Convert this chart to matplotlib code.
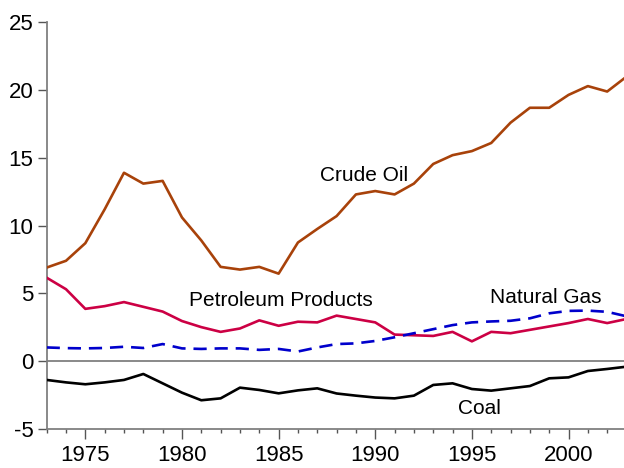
import numpy as np
import matplotlib.pyplot as plt
from matplotlib.ticker import MultipleLocator

plt.rcParams['font.family'] = ['Liberation Sans', 'DejaVu Sans']
plt.rcParams['axes.unicode_minus'] = False

years = list(range(1973, 2004))

crude_oil = [6.9, 7.4, 8.7, 11.2, 13.9, 13.1, 13.3, 10.6, 8.9, 6.95, 6.75,
             6.95, 6.45, 8.75, 9.75, 10.7, 12.3, 12.55, 12.3, 13.1, 14.55,
             15.2, 15.5, 16.1, 17.6, 18.7, 18.7, 19.65, 20.3, 19.9, 21.0]

petroleum_products = [6.15, 5.3, 3.85, 4.05, 4.35, 4.0, 3.65, 2.95, 2.5, 2.15,
                      2.4, 3.0, 2.6, 2.9, 2.85, 3.35, 3.1, 2.85, 1.95, 1.9,
                      1.85, 2.15, 1.45, 2.15, 2.05, 2.3, 2.55, 2.8, 3.1, 2.8,
                      3.1]

natural_gas = [1.0, 0.95, 0.93, 0.96, 1.05, 0.96, 1.25, 0.93, 0.89, 0.93, 0.93,
               0.82, 0.89, 0.7, 1.0, 1.25, 1.3, 1.48, 1.75, 2.05, 2.35, 2.65,
               2.85, 2.92, 2.97, 3.15, 3.52, 3.7, 3.72, 3.63, 3.3]

coal = [-1.4, -1.58, -1.72, -1.58, -1.4, -0.96, -1.65, -2.34, -2.9, -2.76,
        -1.97, -2.14, -2.39, -2.17, -2.02, -2.4, -2.56, -2.7, -2.76, -2.56,
        -1.77, -1.65, -2.07, -2.19, -2.02, -1.85, -1.28, -1.21, -0.74, -0.59,
        -0.42]

labels = ["Crude Oil", "Petroleum Products", "Natural Gas", "Coal"]
label_pos = [(1989.4, 13.7), (1985.1, 4.5), (1998.8, 4.7), (1995.4, -3.5)]

fig = plt.figure(figsize=(6.24, 4.68), dpi=100)
ax = fig.add_axes([0.0748, 0.084, 0.9252, 0.868])

ax.axhline(0, color='#808080', lw=1.3, zorder=1)

ax.plot(years, crude_oil, color='#A8420A', lw=1.9, zorder=3)
ax.plot(years, petroleum_products, color='#CC0044', lw=1.9, zorder=3)
ax.plot(years, natural_gas, color='#0000CC', lw=1.9, dashes=(5, 3), zorder=4)
ax.plot(years, coal, color='black', lw=1.9, zorder=3)

for txt, (x, y) in zip(labels, label_pos):
    ax.text(x, y, txt, fontsize=15, ha='center', va='center')

ax.set_xlim(1973, 2002.87)
ax.set_ylim(-5, 25)

ax.yaxis.set_major_locator(MultipleLocator(5))
ax.xaxis.set_major_locator(MultipleLocator(5))
ax.xaxis.set_minor_locator(MultipleLocator(1))

for s in ['top', 'right']:
    ax.spines[s].set_visible(False)
for s in ['left', 'bottom']:
    ax.spines[s].set_color('#808080')
    ax.spines[s].set_linewidth(1.3)

ax.tick_params(axis='y', which='major', length=6.5, width=1, color='#555555',
               labelsize=16, pad=3)
ax.tick_params(axis='x', which='major', length=7, width=1, color='#555555',
               labelsize=16, pad=5)
ax.tick_params(axis='x', which='minor', length=3.2, width=1, color='#555555')

fig.savefig('out.png', dpi=100)
